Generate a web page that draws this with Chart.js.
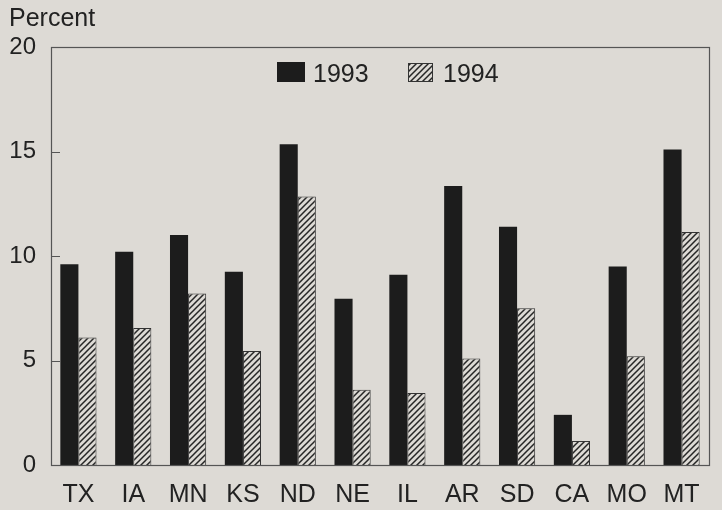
<!DOCTYPE html>
<html>
<head>
<meta charset="utf-8">
<script src="https://cdn.jsdelivr.net/npm/chart.js@4/dist/chart.umd.min.js"></script>
<style>
  html, body { margin: 0; padding: 0; background: #dddad5; }
  #wrap { width: 722px; height: 510px; position: relative; }
</style>
</head>
<body>
<div id="wrap"><canvas id="c"></canvas></div>
<script>
const categories = ['TX', 'IA', 'MN', 'KS', 'ND', 'NE', 'IL', 'AR', 'SD', 'CA', 'MO', 'MT'];
const values1993 = [9.6, 10.2, 11.0, 9.25, 15.35, 7.95, 9.1, 13.35, 11.4, 2.4, 9.5, 15.1];
const values1994 = [6.1, 6.55, 8.2, 5.45, 12.85, 3.6, 3.45, 5.1, 7.5, 1.15, 5.2, 11.15];
const seriesLabels = ['1993', '1994'];
const yTicks = [0, 5, 10, 15, 20];
const yTitle = 'Percent';

const BG = '#dddad5';
const INK = '#1c1c1c';
const FONT = '"Liberation Sans", Arial, Helvetica, sans-serif';

function makeHatch() {
  const s = 6;
  const p = document.createElement('canvas');
  p.width = s; p.height = s;
  const g = p.getContext('2d');
  g.fillStyle = BG;
  g.fillRect(0, 0, s, s);
  g.strokeStyle = '#262626';
  g.lineWidth = 1.5;
  g.beginPath();
  g.moveTo(-1, s + 1); g.lineTo(s + 1, -1);
  g.moveTo(-1, 1); g.lineTo(1, -1);
  g.moveTo(s - 1, s + 1); g.lineTo(s + 1, s - 1);
  g.stroke();
  return g.createPattern(p, 'repeat');
}
const hatch = makeHatch();

const framePlugin = {
  id: 'frame',
  beforeDraw(chart) {
    const ctx = chart.ctx;
    ctx.save();
    ctx.fillStyle = BG;
    ctx.fillRect(0, 0, chart.width, chart.height);
    ctx.restore();
  },
  afterDraw(chart) {
    const ctx = chart.ctx;
    const a = chart.chartArea;
    const y = chart.scales.y;
    ctx.save();
    ctx.strokeStyle = '#555';
    ctx.lineWidth = 1.2;
    ctx.strokeRect(Math.round(a.left) + 0.5, Math.round(a.top) + 0.5, Math.round(a.right - a.left), Math.round(a.bottom - a.top));
    // inward tick marks
    ctx.beginPath();
    yTicks.forEach(v => {
      const py = Math.round(y.getPixelForValue(v)) + 0.5;
      ctx.moveTo(a.left, py);
      ctx.lineTo(a.left + 9, py);
    });
    ctx.stroke();
    // y title
    ctx.fillStyle = '#222';
    ctx.font = '25px ' + FONT;
    ctx.textAlign = 'left';
    ctx.textBaseline = 'alphabetic';
    ctx.fillText(yTitle, 9, 26);
    // legend
    const ds = chart.data.datasets;
    const items = [
      { x: 277, w: 28, h: 20, textX: 313 },
      { x: 408, w: 25, h: 19, textX: 443 }
    ];
    const base = 82;
    items.forEach((it, i) => {
      ctx.fillStyle = ds[i].backgroundColor;
      ctx.fillRect(it.x, base - it.h, it.w, it.h);
      if (i === 1) {
        ctx.strokeStyle = '#333';
        ctx.lineWidth = 1;
        ctx.strokeRect(it.x + 0.5, base - it.h + 0.5, it.w - 1, it.h - 1);
      }
      ctx.fillStyle = '#222';
      ctx.font = '25px ' + FONT;
      ctx.fillText(ds[i].label, it.textX, base);
    });
    ctx.restore();
  }
};

new Chart(document.getElementById('c'), {
  type: 'bar',
  data: {
    labels: categories,
    datasets: [
      { label: seriesLabels[0], data: values1993, backgroundColor: INK, borderWidth: 0 },
      { label: seriesLabels[1], data: values1994, backgroundColor: hatch, borderColor: '#333', borderWidth: 1 }
    ]
  },
  options: {
    responsive: true,
    maintainAspectRatio: false,
    animation: false,
    devicePixelRatio: 1,
    layout: { padding: { left: 0, top: 47, right: 13, bottom: 0 } },
    datasets: { bar: { categoryPercentage: 0.66, barPercentage: 1.0 } },
    plugins: { legend: { display: false }, tooltip: { enabled: false }, title: { display: false } },
    scales: {
      x: {
        grid: { display: false, drawTicks: false },
        border: { display: false },
        ticks: { color: '#222', font: { family: FONT, size: 25 }, padding: 15, maxRotation: 0, autoSkip: false },
        afterFit(s) { s.height = 45; }
      },
      y: {
        min: 0, max: 20,
        afterBuildTicks(s) { s.ticks = yTicks.map(v => ({ value: v })); },
        grid: { display: false, drawTicks: false },
        border: { display: false },
        ticks: { color: '#222', font: { family: FONT, size: 24 }, padding: 15 },
        afterFit(s) { s.width = 51; }
      }
    }
  },
  plugins: [framePlugin]
});
</script>
</body>
</html>
